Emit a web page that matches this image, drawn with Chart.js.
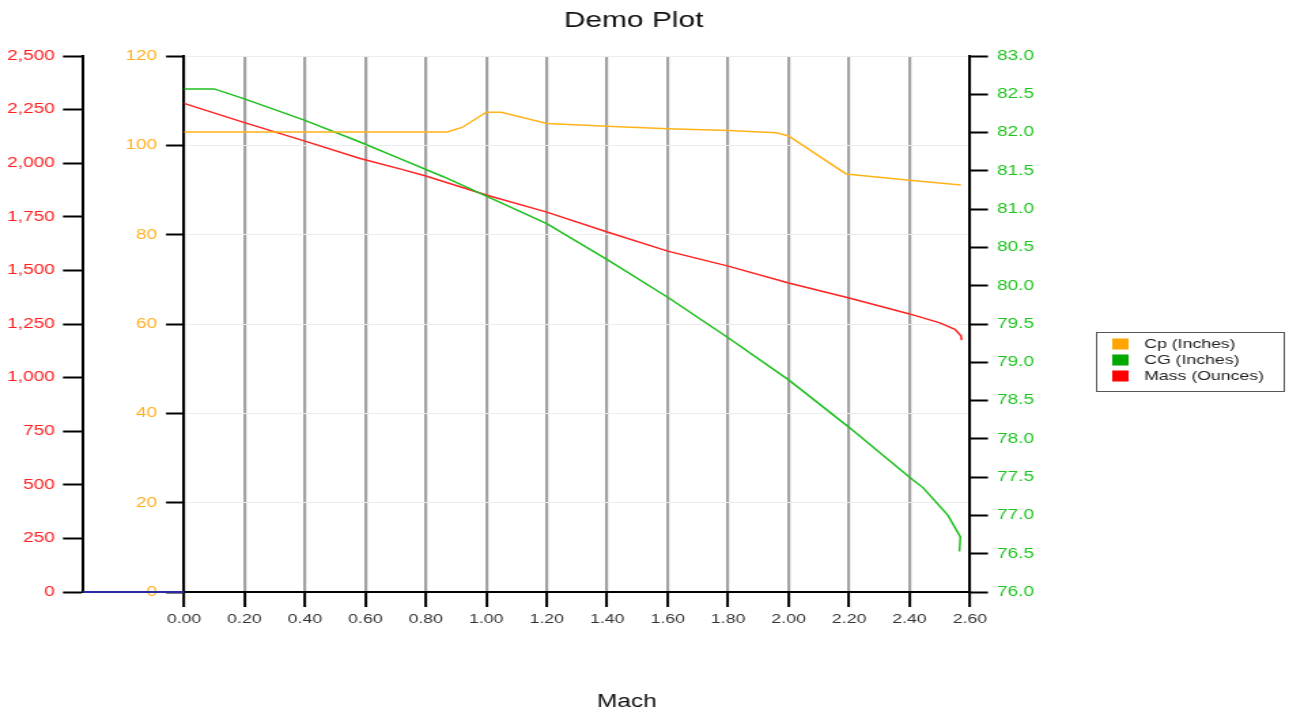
<!DOCTYPE html>
<html>
<head>
<meta charset="utf-8">
<script src="https://cdn.jsdelivr.net/npm/chart.js@4/dist/chart.umd.min.js"></script>
<style>
  html, body { margin: 0; padding: 0; background: #fff; overflow: hidden; }
  #c { display: block; transform: scaleX(1.35971); transform-origin: 0 0; }
</style>
</head>
<body>
<canvas id="c" width="948" height="713"></canvas>
<script>
// ---- data ----
const chartTitle = 'Demo Plot';
const xTitle = 'Mach';
const seriesLabels = ['Cp (Inches)', 'CG (Inches)', 'Mass (Ounces)'];

const machCp = [0, 0.87, 0.92, 1.0, 1.05, 1.2, 1.4, 1.6, 1.8, 1.96, 2.0, 2.19, 2.4, 2.57];
const cpValues = [103.0, 103.0, 104.0, 107.4, 107.4, 104.9, 104.3, 103.7, 103.3, 102.8, 102.1, 93.6, 92.2, 91.1];

const machCg = [0, 0.1, 0.2, 0.4, 0.58, 0.72, 0.86, 1.0, 1.2, 1.4, 1.6, 1.8, 2.0, 2.2, 2.4, 2.445, 2.527, 2.568, 2.565];
const cgValues = [82.57, 82.57, 82.44, 82.16, 81.88, 81.65, 81.42, 81.17, 80.81, 80.34, 79.85, 79.32, 78.77, 78.15, 77.5, 77.36, 77.0, 76.72, 76.53];

const machMass = [0, 0.2, 0.4, 0.58, 0.72, 0.8, 1.0, 1.2, 1.4, 1.6, 1.8, 2.0, 2.2, 2.4, 2.5, 2.55, 2.57, 2.572];
const massValues = [2279, 2189, 2103, 2023, 1971, 1940, 1852, 1772, 1679, 1590, 1520, 1441, 1371, 1297, 1255, 1225, 1195, 1175];

const xTicks = { min: 0, max: 2.6, step: 0.2 };
const cpTicks = { min: 0, max: 120, step: 20 };
const massTicks = { min: 0, max: 2500, step: 250 };
const cgTicks = { min: 76, max: 83, step: 0.5 };

const colors = { cp: '#ffb31a', cg: '#1fbf1f', mass: '#ff2424' };
const legendColors = ['#ffa500', '#00a800', '#ff0000'];

function pts(xs, ys) { return xs.map((x, i) => ({ x: x, y: ys[i] })); }

Chart.defaults.font.family = "'Liberation Sans', Arial, Helvetica, sans-serif";

const extras = {
  id: 'extras',
  afterDraw(chart) {
    const ctx = chart.ctx;
    const ca = chart.chartArea;
    const ym = chart.scales.yMass;
    ctx.save();
    // blue baseline segment between the two left axes
    ctx.strokeStyle = '#2a2aa8';
    ctx.lineWidth = 2;
    ctx.beginPath();
    ctx.moveTo(ym.right, ca.bottom);
    ctx.lineTo(ca.left, ca.bottom);
    ctx.stroke();
    // x axis title
    ctx.fillStyle = '#111';
    ctx.font = "18px 'Liberation Sans', Arial, sans-serif";
    ctx.textAlign = 'center';
    ctx.textBaseline = 'middle';
    ctx.fillText(xTitle, 461, 702);
    // legend
    const lx = 806, ly = 332, lw = 138, lh = 59;
    ctx.strokeStyle = '#555';
    ctx.lineWidth = 1;
    ctx.strokeRect(lx + 0.5, ly + 0.5, lw, lh);
    ctx.font = "13px 'Liberation Sans', Arial, sans-serif";
    ctx.textAlign = 'left';
    chart.data.datasets.forEach((ds, i) => {
      const cy = 344 + i * 16;
      ctx.fillStyle = legendColors[i];
      ctx.fillRect(818, cy - 5.5, 12, 11);
      ctx.fillStyle = '#222';
      ctx.fillText(ds.label, 841.5, cy + 0.5);
    });
    ctx.restore();
  }
};

new Chart(document.getElementById('c'), {
  type: 'line',
  data: {
    datasets: [
      { label: seriesLabels[0], data: pts(machCp, cpValues), yAxisID: 'yCp',
        borderColor: colors.cp, backgroundColor: colors.cp, borderWidth: 1.5, pointRadius: 0, tension: 0 },
      { label: seriesLabels[1], data: pts(machCg, cgValues), yAxisID: 'yCg',
        borderColor: colors.cg, backgroundColor: colors.cg, borderWidth: 1.5, pointRadius: 0, tension: 0 },
      { label: seriesLabels[2], data: pts(machMass, massValues), yAxisID: 'yMass',
        borderColor: colors.mass, backgroundColor: colors.mass, borderWidth: 1.5, pointRadius: 0, tension: 0 }
    ]
  },
  options: {
    responsive: false,
    animation: false,
    devicePixelRatio: 1,
    layout: { padding: { left: 0, right: 16, top: 0, bottom: 0 } },
    plugins: {
      legend: { display: false },
      tooltip: { enabled: false },
      title: {
        display: true, text: chartTitle, color: '#111',
        font: { size: 22, weight: 'normal' },
        padding: { top: 8, bottom: 21.6 }
      }
    },
    scales: {
      x: {
        type: 'linear', position: 'bottom',
        min: xTicks.min, max: xTicks.max,
        afterFit: (s) => { s.height = 121; },
        ticks: { stepSize: xTicks.step, color: '#333', font: { size: 13 }, padding: 5,
                 callback: (v) => Number(v).toFixed(2), maxRotation: 0, autoSkip: false },
        grid: { color: '#a2a2a2', lineWidth: 2.2, tickColor: '#000', tickLength: 15, tickWidth: 2 },
        border: { color: '#000', width: 2 }
      },
      yMass: {
        type: 'linear', position: 'left', weight: 1,
        min: massTicks.min, max: massTicks.max,
        afterFit: (s) => { s.width = 61; },
        ticks: { stepSize: massTicks.step, color: '#ff2020', font: { size: 14 }, padding: 6,
                 callback: (v) => Number(v).toLocaleString('en-US') },
        grid: { drawOnChartArea: false, tickColor: '#000', tickLength: 14.7, tickWidth: 2 },
        border: { color: '#000', width: 2 }
      },
      yCp: {
        type: 'linear', position: 'left', weight: 0,
        min: cpTicks.min, max: cpTicks.max,
        afterFit: (s) => { s.width = 74.3; },
        ticks: { stepSize: cpTicks.step, color: '#ffb020', font: { size: 14 }, padding: 6.6 },
        grid: { color: '#ececec', lineWidth: 1, tickColor: '#000', tickLength: 13.2, tickWidth: 2 },
        border: { color: '#000', width: 2 }
      },
      yCg: {
        type: 'linear', position: 'right',
        min: cgTicks.min, max: cgTicks.max,
        afterFit: (s) => { s.width = 218.6; },
        ticks: { stepSize: cgTicks.step, color: '#1ec41e', font: { size: 14 }, padding: 6.6,
                 callback: (v) => Number(v).toFixed(1) },
        grid: { drawOnChartArea: false, tickColor: '#000', tickLength: 13.2, tickWidth: 2 },
        border: { color: '#000', width: 2 }
      }
    }
  },
  plugins: [extras]
});
</script>
</body>
</html>
